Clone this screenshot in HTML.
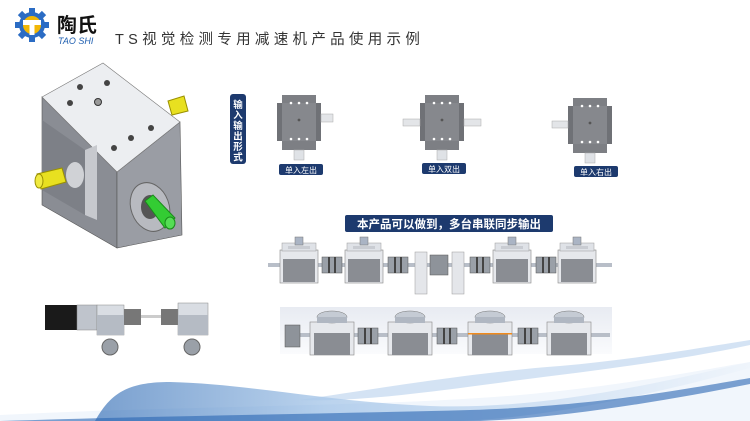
<!DOCTYPE html>
<html><head><meta charset="utf-8"><style>
html,body{margin:0;padding:0;background:#fff}
body{width:750px;height:421px;overflow:hidden;position:relative;font-family:"Liberation Sans","Noto Sans CJK SC",sans-serif}
</style></head><body>
<svg width="750" height="421" viewBox="0 0 750 421" xmlns="http://www.w3.org/2000/svg" style="position:absolute;left:0;top:0">
<defs>
<linearGradient id="wv" x1="0" y1="0" x2="1" y2="0"><stop offset="0" stop-color="#1f5fae"/><stop offset="0.35" stop-color="#8db6e2"/><stop offset="1" stop-color="#eef4fb"/></linearGradient>
<linearGradient id="band" x1="0" y1="0" x2="0" y2="1"><stop offset="0" stop-color="#e8ebf2"/><stop offset="1" stop-color="#fafbfd"/></linearGradient>
<g id="gb">
<rect x="0" y="13" width="38" height="33" fill="#e6e8ec" stroke="#888" stroke-width="0.6"/>
<rect x="3" y="22" width="32" height="23" fill="#8a8d93"/>
<rect x="2" y="6" width="34" height="8" fill="#dfe2e7" stroke="#999" stroke-width="0.5"/>
<rect x="15" y="0" width="8" height="8" fill="#aab4c4" stroke="#777" stroke-width="0.5"/>
<rect x="8" y="9" width="22" height="3" fill="#c9ccd2"/>
</g>
<g id="cp"><rect x="0" y="-8" width="20" height="16" fill="#9aa0a8" stroke="#555" stroke-width="0.5"/><rect x="6" y="-8" width="2" height="16" fill="#444"/><rect x="12" y="-8" width="2" height="16" fill="#444"/></g>
<g id="r2"><rect x="0" y="13" width="44" height="33" fill="#e6e8ec" stroke="#888" stroke-width="0.6"/><rect x="4" y="24" width="36" height="22" fill="#8a8d93"/><ellipse cx="22" cy="8" rx="15" ry="6" fill="#c5cbd4" stroke="#777" stroke-width="0.5"/><rect x="7" y="8" width="30" height="6" fill="#b0b7c2"/></g>
<g id="tv">
<rect x="5" y="0" width="34" height="55" fill="#7d7f84"/>
<rect x="0" y="8" width="44" height="38" fill="#86888d"/>
<rect x="0" y="8" width="5" height="38" fill="#6f7176"/><rect x="39" y="8" width="5" height="38" fill="#6f7176"/>
<circle cx="14" cy="8" r="1.3" fill="#fff"/><circle cx="22" cy="8" r="1.3" fill="#fff"/><circle cx="30" cy="8" r="1.3" fill="#fff"/>
<circle cx="14" cy="44" r="1.3" fill="#fff"/><circle cx="22" cy="44" r="1.3" fill="#fff"/><circle cx="30" cy="44" r="1.3" fill="#fff"/>
<circle cx="22" cy="25" r="1.4" fill="#555"/>
<rect x="17" y="55" width="10" height="10" fill="#dfe2e6" stroke="#aaa" stroke-width="0.5"/>
</g>
</defs>

<!-- logo -->
<g transform="translate(32,25)">
<circle r="13" fill="#2b6cc4"/>
<g fill="#2b6cc4"><rect x="-3" y="-17" width="6" height="34"/><rect x="-17" y="-3" width="34" height="6"/><rect x="-3" y="-17" width="6" height="34" transform="rotate(45)"/><rect x="-3" y="-17" width="6" height="34" transform="rotate(-45)"/></g>
<circle r="9" fill="#f2b705"/>
<rect x="-9" y="-5" width="18" height="5" fill="#fff"/><rect x="-2.5" y="-1" width="5" height="11" fill="#fff"/>
</g>
<text x="57" y="32" font-size="20" font-weight="bold" fill="#111" font-family="Liberation Sans,Noto Sans CJK SC,sans-serif">陶氏</text>
<text x="58" y="44" font-size="9" font-style="italic" fill="#1f5fb0" font-family="Liberation Sans,sans-serif">TAO SHI</text>
<text x="115" y="44" font-size="14.5" fill="#333" letter-spacing="4.3" font-family="Liberation Sans,Noto Sans CJK SC,sans-serif">TS视觉检测专用减速机产品使用示例</text>

<!-- big cube -->
<polygon points="42,97 117,172 117,248 42,205" fill="#8a8d94" stroke="#555" stroke-width="0.6"/>
<polygon points="117,172 180,122 182,235 117,248" fill="#9a9da4" stroke="#555" stroke-width="0.6"/>
<polygon points="42,97 103,63 180,122 117,172" fill="#eceef1" stroke="#777" stroke-width="0.6"/>
<polygon points="42,120 85,150 85,215 42,190" fill="#7d8087"/>
<polygon points="85,150 97,145 97,220 85,215" fill="#c7c9ce"/>
<ellipse cx="75" cy="175" rx="9" ry="13" fill="#d0d2d6"/>
<circle cx="80" cy="87" r="3" fill="#444"/><circle cx="107" cy="83" r="3" fill="#444"/><circle cx="70" cy="103" r="3" fill="#444"/>
<circle cx="98" cy="102" r="3.5" fill="#999" stroke="#333"/><circle cx="151" cy="128" r="3" fill="#444"/><circle cx="131" cy="138" r="3" fill="#444"/><circle cx="114" cy="148" r="3" fill="#444"/>
<ellipse cx="150" cy="207" rx="19" ry="25" transform="rotate(-20 150 207)" fill="#b8bac0" stroke="#666"/>
<ellipse cx="150" cy="207" rx="9" ry="12" fill="#555"/>
<polygon points="145,201 153,195 175,218 165,228" fill="#33cc33" stroke="#1a8a1a"/>
<ellipse cx="170" cy="223" rx="5" ry="6" fill="#55dd55" stroke="#1a8a1a"/>
<polygon points="168,101 184,96 188,111 172,115" fill="#e8e020" stroke="#9a9000"/>
<polygon points="37,174 62,168 66,182 41,189" fill="#e8e020" stroke="#9a9000"/>
<ellipse cx="39" cy="181" rx="4" ry="7" fill="#f0ea40" stroke="#9a9000"/>

<!-- small motor assembly -->
<rect x="45" y="305" width="32" height="25" fill="#1a1a1a"/>
<rect x="77" y="305" width="20" height="25" fill="#bfc4cc" stroke="#888" stroke-width="0.5"/>
<rect x="97" y="305" width="27" height="30" fill="#d9dde3" stroke="#888" stroke-width="0.5"/>
<rect x="97" y="315" width="27" height="20" fill="#b5bbc4"/>
<circle cx="110" cy="347" r="8" fill="#9aa0a8" stroke="#666"/>
<rect x="124" y="309" width="17" height="16" fill="#777"/>
<rect x="141" y="315" width="20" height="3" fill="#ccc"/>
<rect x="161" y="309" width="17" height="16" fill="#777"/>
<rect x="178" y="303" width="30" height="32" fill="#d9dde3" stroke="#888" stroke-width="0.5"/>
<rect x="178" y="315" width="30" height="20" fill="#b5bbc4"/>
<circle cx="192" cy="347" r="8" fill="#9aa0a8" stroke="#666"/>

<!-- vertical label -->
<rect x="230" y="94" width="16" height="70" rx="3" fill="#1d3a6e"/>
<text x="238" y="108" font-size="9.5" fill="#fff" text-anchor="middle" font-weight="bold" font-family="Noto Sans CJK SC,sans-serif"><tspan x="238">输</tspan><tspan x="238" dy="10.5">入</tspan><tspan x="238" dy="10.5">输</tspan><tspan x="238" dy="10.5">出</tspan><tspan x="238" dy="10.5">形</tspan><tspan x="238" dy="10.5">式</tspan></text>

<!-- top views -->
<use href="#tv" x="277" y="95"/><rect x="321" y="114" width="12" height="8" fill="#e3e5e8" stroke="#aaa" stroke-width="0.5"/>
<use href="#tv" x="420" y="95"/><rect x="403" y="119" width="17" height="7" fill="#e3e5e8" stroke="#aaa" stroke-width="0.5"/><rect x="464" y="119" width="17" height="7" fill="#e3e5e8" stroke="#aaa" stroke-width="0.5"/>
<use href="#tv" x="568" y="98"/><rect x="552" y="121" width="16" height="7" fill="#e3e5e8" stroke="#aaa" stroke-width="0.5"/>
<rect x="279" y="164" width="44" height="11" rx="2" fill="#1d3a6e"/><text x="301" y="173" font-size="8" fill="#fff" text-anchor="middle" font-family="Noto Sans CJK SC,sans-serif">单入左出</text>
<rect x="422" y="163" width="44" height="11" rx="2" fill="#1d3a6e"/><text x="444" y="172" font-size="8" fill="#fff" text-anchor="middle" font-family="Noto Sans CJK SC,sans-serif">单入双出</text>
<rect x="574" y="166" width="44" height="11" rx="2" fill="#1d3a6e"/><text x="596" y="175" font-size="8" fill="#fff" text-anchor="middle" font-family="Noto Sans CJK SC,sans-serif">单入右出</text>

<!-- banner -->
<rect x="345" y="215" width="208" height="17" rx="2" fill="#1d3a6e"/>
<text x="449" y="228" font-size="11.5" fill="#fff" text-anchor="middle" font-weight="bold" font-family="Noto Sans CJK SC,sans-serif">本产品可以做到，多台串联同步输出</text>

<!-- row1 -->
<rect x="268" y="263" width="344" height="4" fill="#b8bec8"/>
<use href="#gb" x="280" y="237"/><use href="#gb" x="345" y="237"/><use href="#gb" x="493" y="237"/><use href="#gb" x="558" y="237"/>
<use href="#cp" x="322" y="265"/><use href="#cp" x="388" y="265"/><use href="#cp" x="470" y="265"/><use href="#cp" x="536" y="265"/>
<rect x="415" y="252" width="12" height="42" fill="#e4e6ea" stroke="#999" stroke-width="0.5"/>
<rect x="452" y="252" width="12" height="42" fill="#e4e6ea" stroke="#999" stroke-width="0.5"/>
<rect x="430" y="255" width="18" height="20" fill="#8e939a" stroke="#555" stroke-width="0.5"/>

<!-- row2 -->
<rect x="280" y="307" width="332" height="47" fill="url(#band)"/>
<rect x="285" y="333" width="325" height="4" fill="#b8bec8"/>
<rect x="285" y="325" width="15" height="22" fill="#8e939a" stroke="#555" stroke-width="0.5"/>
<use href="#r2" x="310" y="309"/><use href="#r2" x="388" y="309"/><use href="#r2" x="468" y="309"/><use href="#r2" x="547" y="309"/>
<rect x="468" y="333" width="44" height="1.5" fill="#f08a1c"/>
<use href="#cp" x="358" y="336"/><use href="#cp" x="437" y="336"/><use href="#cp" x="518" y="336"/>

<!-- wave -->
<path d="M0,421 L0,415 C200,405 380,407 520,395 C620,386 690,372 750,362 L750,421 Z" fill="#f1f6fc"/>
<path d="M95,421 C110,395 125,382 170,382 C250,384 330,402 430,406 C540,410 650,385 750,362 L750,368 C640,398 540,418 460,421 Z" fill="url(#wv)" opacity="0.6"/>
<path d="M0,421 C150,416 320,414 470,410 C600,406 690,388 750,378 L750,384 C660,402 560,418 480,421 Z" fill="#2a66b2" opacity="0.6"/>
<path d="M300,400 C400,385 480,372 560,366 C630,360 700,348 750,340 L750,345 C680,360 600,370 520,380 C430,392 360,402 300,400 Z" fill="#a9c8ea" opacity="0.5"/>
</svg>
</body></html>
